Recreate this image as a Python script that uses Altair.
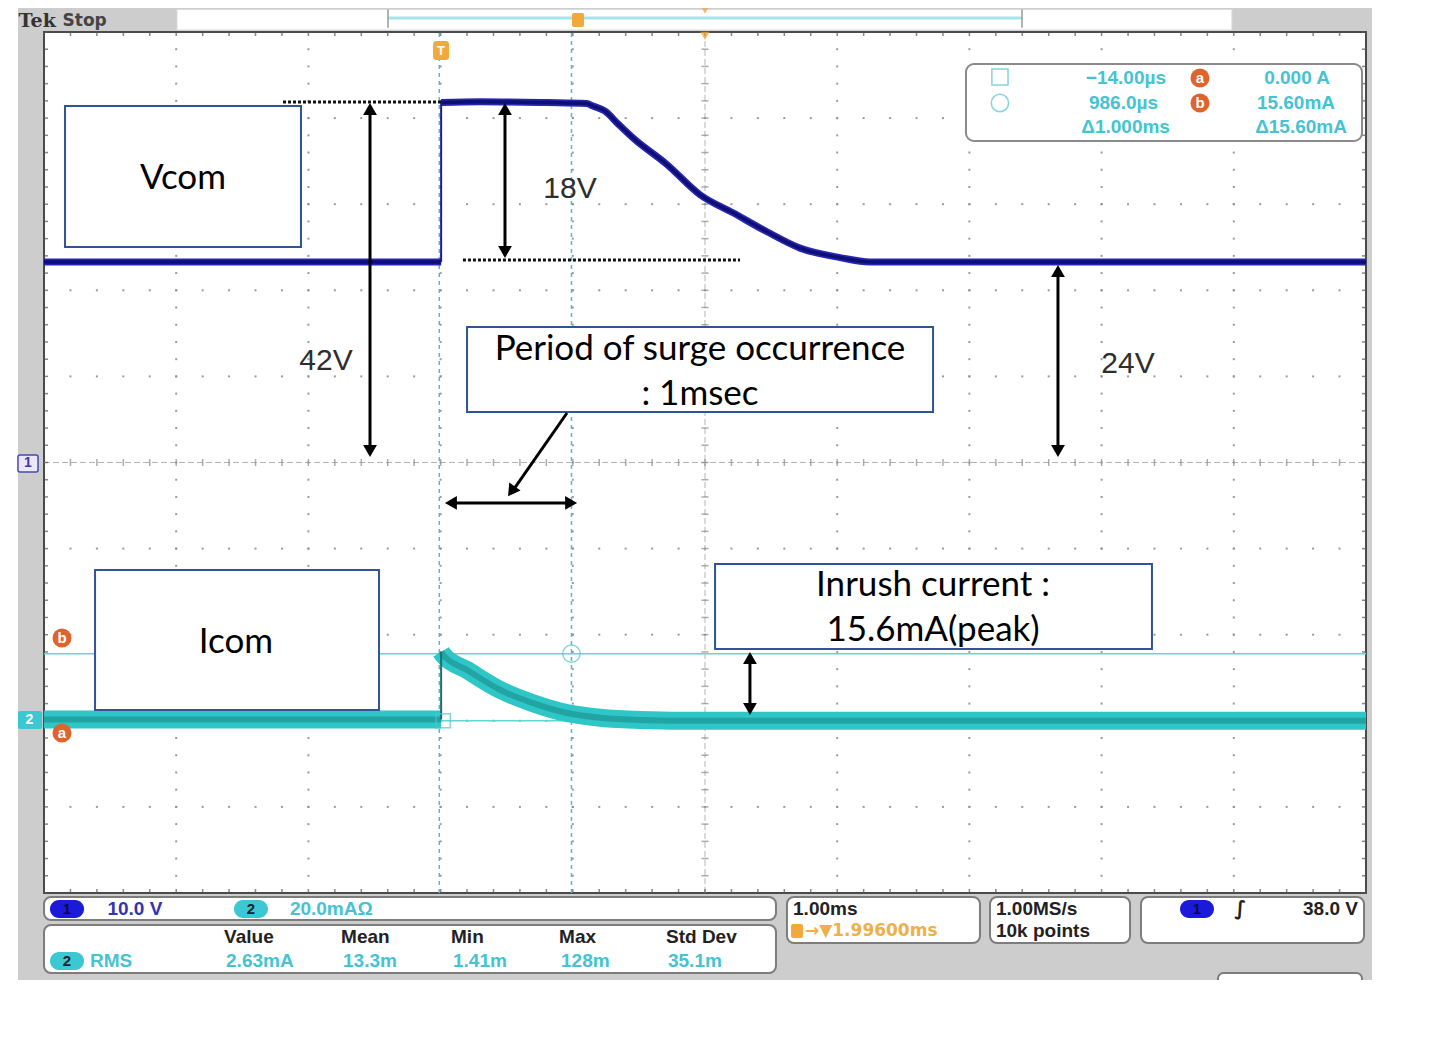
import altair as alt
import numpy as np
import pandas as pd

# ---------------- values ----------------
TRIG_DIV = 3.004                 # trigger point in divisions from left edge (1.00 ms/div)
CH1_GND_DIV, CH1_V_PER_DIV = 5.0, 10.0
CH2_GND_DIV, CH2_MA_PER_DIV = 2.0, 20.0

# Vcom (channel 1), time in ms relative to trigger, value in V
vcom_pre_t = [-3.004, 0.0]
vcom_pre_v = [23.3, 23.3]
vcom_t = [0.0, 0.3, 0.8, 1.1, 1.149, 1.24, 1.34, 1.451, 1.709, 1.958, 2.208, 2.465, 2.715, 3.017, 3.244, 3.6, 4.5, 5.5, 6.996]
vcom_v = [41.8, 41.9, 41.8, 41.7, 41.4, 40.8, 39.3, 37.7, 34.6, 31.1, 29.0, 26.8, 24.9, 23.8, 23.3, 23.3, 23.3, 23.3, 23.3]

# Icom (channel 2), time in ms, value in mA
icom_pre_t = [-3.004, 0.0]
icom_pre_ma = [0.3, 0.3]
icom_t = [0.0, 0.015, 0.196, 0.445, 0.695, 0.952, 1.202, 1.504, 2.0, 6.996]
icom_ma = [16.0, 15.3, 11.8, 7.2, 4.1, 1.8, 0.7, 0.2, 0.0, 0.0]

# cursors
cursor_t = [-0.014, 0.986]       # ms
cursor_ma = [0.0, 15.6]          # mA

cursor_time_text = ["\u221214.00\u00b5s", "986.0\u00b5s", "\u03941.000ms"]
cursor_amp_text = ["0.000 A", "15.60mA", "\u039415.60mA"]
meas_headers = ["Value", "Mean", "Min", "Max", "Std Dev"]
meas_values = ["2.63mA", "13.3m", "1.41m", "128m", "35.1m"]

annot_labels = ["42V", "18V", "24V"]

# ---------------- helpers ----------------
XS = alt.Scale(domain=[-0.1967, 10.0454], nice=False, zero=False)
YS = alt.Scale(domain=[-1.0105, 10.2787], nice=False, zero=False)
XE = alt.X("x:Q", scale=XS, axis=None)
YE = alt.Y("y:Q", scale=YS, axis=None)


def rect(rows, **kw):
    df = pd.DataFrame(rows, columns=["x", "x2", "y", "y2"])
    return alt.Chart(df).mark_rect(**kw).encode(x=XE, x2="x2:Q", y=YE, y2="y2:Q")


def rule(rows, **kw):
    df = pd.DataFrame(rows, columns=["x", "y", "x2", "y2"])
    return alt.Chart(df).mark_rule(**kw).encode(x=XE, y=YE, x2="x2:Q", y2="y2:Q")


def text(rows, **kw):
    df = pd.DataFrame(rows, columns=["x", "y", "text"])
    return alt.Chart(df).mark_text(**kw).encode(x=XE, y=YE, text="text:N")


def pts(rows, **kw):
    df = pd.DataFrame(rows, columns=["x", "y"])
    return alt.Chart(df).mark_point(**kw).encode(x=XE, y=YE)


def line(xs, ys, **kw):
    df = pd.DataFrame({"x": xs, "y": ys, "i": list(range(len(xs)))})
    return alt.Chart(df).mark_line(**kw).encode(x=XE, y=YE, order="i:Q")


def tdiv(ts):
    return [t + TRIG_DIV for t in ts]


def vdiv(vs):
    return [CH1_GND_DIV + v / CH1_V_PER_DIV for v in vs]


def idiv(ms):
    return [CH2_GND_DIV + m / CH2_MA_PER_DIV for m in ms]


SCOPE_FONT = "Liberation Sans"
CYAN_TXT = "#45c3d2"
layers = []

# ---------------- scope frame ----------------
layers.append(rect([(-0.1967, 10.0454, -1.0105, 10.2787)], color="#cdcdcd"))
layers.append(rect([(1.006, 8.986, 10.023, 10.262)], fill="white", stroke="#dadada", strokeWidth=1))
layers.append(rule([(2.602, 10.163, 7.398, 10.163)], color="#a6e3ea", strokeWidth=3))
layers.append(rule([(2.602, 10.26, 2.602, 10.05), (7.398, 10.26, 7.398, 10.05)], color="#9a9a9a", strokeWidth=1.5))
layers.append(text([(-0.192, 10.13, "Tek")], align="left", baseline="middle", font="DejaVu Serif",
                   fontSize=19, fontWeight="bold", color="#333333"))
layers.append(text([(0.14, 10.13, "Stop")], align="left", baseline="middle", font="DejaVu Sans",
                   fontSize=17, fontWeight="bold", color="#444444"))
# header markers
layers.append(rect([(3.994, 4.085, 10.221, 10.058)], color="#f2a93b", cornerRadius=2))
layers.append(pts([(5.0, 10.245)], shape="triangle-down", size=40, filled=True, color="#f0a030"))

# graticule
layers.append(rect([(0, 10, 0, 10)], fill="white", stroke="#4a4a4a", strokeWidth=2))

minor = np.round(np.arange(0, 10.0001, 0.2), 3)
dots = []
for k in range(1, 10):
    if k == 5:
        continue
    for m in minor[1:-1]:
        dots.append((k, m))
        dots.append((m, k))
layers.append(pts(dots, shape="square", size=4, filled=True, color="#8f8f8f", opacity=0.9))

# center axes
layers.append(rule([(5, 0, 5, 10), (0, 5, 10, 5)], color="#b4b4b4", strokeWidth=1, strokeDash=[6, 3]))
layers.append(pts([(m, 5) for m in minor[1:-1]], shape="M0,-1L0,1", size=49, filled=False,
                  color="#8a8a8a", strokeWidth=1.5))
layers.append(pts([(5, m) for m in minor[1:-1]], shape="M-1,0L1,0", size=49, filled=False,
                  color="#8a8a8a", strokeWidth=1.5))
# border ticks
layers.append(pts([(m, 10) for m in minor], shape="M0,0L0,1", size=64, filled=False, color="#555555", strokeWidth=1.5))
layers.append(pts([(m, 0) for m in minor], shape="M0,0L0,-1", size=64, filled=False, color="#555555", strokeWidth=1.5))
layers.append(pts([(0, m) for m in minor], shape="M0,0L1,0", size=64, filled=False, color="#555555", strokeWidth=1.5))
layers.append(pts([(10, m) for m in minor], shape="M0,0L-1,0", size=64, filled=False, color="#555555", strokeWidth=1.5))
layers.append(pts([(5.0, 9.955)], shape="triangle-down", size=90, filled=True, color="#f0a030"))

# cursors
cx = tdiv(cursor_t)
cy = idiv(cursor_ma)
layers.append(rule([(cx[0], 0, cx[0], 10), (cx[1], 0, cx[1], 10)], color="#52bccb", strokeWidth=1.5, strokeDash=[4, 4]))
layers.append(rule([(0, cy[0], 10, cy[0]), (0, cy[1], 10, cy[1])], color="#66d2da", strokeWidth=1.5))

# traces
layers.append(line(tdiv(vcom_pre_t), vdiv(vcom_pre_v), color="#2626b0", strokeWidth=7, interpolate="monotone"))
layers.append(line(tdiv(vcom_t), vdiv(vcom_v), color="#2626b0", strokeWidth=7, interpolate="monotone"))
layers.append(line(tdiv(vcom_pre_t), vdiv(vcom_pre_v), color="#0e0e74", strokeWidth=3.5, interpolate="monotone"))
layers.append(line(tdiv(vcom_t), vdiv(vcom_v), color="#0e0e74", strokeWidth=3.5, interpolate="monotone"))
layers.append(line(tdiv([0, 0]), vdiv([vcom_pre_v[-1], vcom_v[0]]), color="#1a1a9a", strokeWidth=2))

layers.append(line(tdiv(icom_pre_t), idiv(icom_pre_ma), color="#2ec6c6", strokeWidth=18, interpolate="monotone"))
layers.append(line(tdiv(icom_t), idiv(icom_ma), color="#2ec6c6", strokeWidth=18, interpolate="monotone"))
layers.append(line(tdiv(icom_pre_t), idiv(icom_pre_ma), color="#177a7a", strokeWidth=6, opacity=0.45, interpolate="monotone"))
layers.append(line(tdiv(icom_t), idiv(icom_ma), color="#177a7a", strokeWidth=6, opacity=0.45, interpolate="monotone"))
layers.append(line(tdiv([0, 0]), idiv([icom_pre_ma[-1], icom_ma[0]]), color="#1b6f6f", strokeWidth=2))

# cursor markers on graticule
layers.append(pts([(cx[0] + 0.03, cy[0])], shape="square", size=200, filled=False, color="#52c4d0", strokeWidth=1.5))
layers.append(pts([(cx[1], cy[1])], shape="circle", size=300, filled=False, color="#52c4d0", strokeWidth=1.5))

# trigger marker
layers.append(rect([(2.943, 3.064, 9.895, 9.675)], color="#f2a93b", cornerRadius=3))
layers.append(text([(3.003, 9.785, "T")], align="center", baseline="middle", font=SCOPE_FONT, fontSize=13,
                   fontWeight="bold", color="white"))

# channel ground tabs and cursor a/b markers
layers.append(rect([(-0.197, -0.045, 5.087, 4.890)], fill="#ece6fb", stroke="#4848b0", strokeWidth=1.5, cornerRadius=2))
layers.append(text([(-0.122, 4.99, "1")], align="center", baseline="middle", font=SCOPE_FONT, fontSize=14,
                   fontWeight="bold", color="#3a3aa8"))
layers.append(rect([(-0.197, -0.015, 2.114, 1.905)], color="#3cc8d2", cornerRadius=2))
layers.append(text([(-0.11, 2.01, "2")], align="center", baseline="middle", font=SCOPE_FONT, fontSize=14,
                   fontWeight="bold", color="white"))
layers.append(pts([(0.136, 2.962), (0.136, 1.858)], shape="circle", size=360, filled=True, color="#e0622c", opacity=1))
layers.append(text([(0.136, 2.962, "b"), (0.136, 1.858, "a")], align="center", baseline="middle",
                   font=SCOPE_FONT, fontSize=15, fontWeight="bold", color="white"))

# cursor readout box
layers.append(rect([(6.974, 9.970, 9.628, 8.734)], fill="white", stroke="#8a8a8a", strokeWidth=2, cornerRadius=8))
layers.append(pts([(7.231, 9.477)], shape="square", size=260, filled=False, color="#52c4d0", strokeWidth=1.5))
layers.append(pts([(7.231, 9.175)], shape="circle", size=300, filled=False, color="#52c4d0", strokeWidth=1.5))
layers.append(text([(8.487, 9.466, cursor_time_text[0]), (8.427, 9.175, cursor_time_text[1]),
                    (8.517, 8.897, cursor_time_text[2])], align="right", baseline="middle",
                   font=SCOPE_FONT, fontSize=19, fontWeight="bold", color=CYAN_TXT))
layers.append(text([(9.728, 9.466, cursor_amp_text[0]), (9.766, 9.175, cursor_amp_text[1]),
                    (9.856, 8.897, cursor_amp_text[2])], align="right", baseline="middle",
                   font=SCOPE_FONT, fontSize=19, fontWeight="bold", color=CYAN_TXT))
layers.append(pts([(8.744, 9.466), (8.744, 9.175)], shape="circle", size=360, filled=True, color="#e0622c", opacity=1))
layers.append(text([(8.744, 9.466, "a"), (8.744, 9.175, "b")], align="center", baseline="middle",
                   font=SCOPE_FONT, fontSize=15, fontWeight="bold", color="white"))

# bottom readout boxes
box_kw = dict(fill="white", stroke="#7d7d7d", strokeWidth=2, cornerRadius=7)
layers.append(rect([(0.0, 5.537, -0.046, -0.314)], **box_kw))
layers.append(rect([(0.0, 5.537, -0.372, -0.929)], **box_kw))
layers.append(rect([(5.620, 7.080, -0.046, -0.581)], **box_kw))
layers.append(rect([(7.156, 8.215, -0.046, -0.581)], **box_kw))
layers.append(rect([(8.298, 9.985, -0.046, -0.581)], **box_kw))
layers.append(rect([(8.880, 9.970, -0.929, -1.06)], **box_kw))

layers.append(rect([(0.045, 0.303, -0.081, -0.290), (8.593, 8.850, -0.081, -0.290)], color="#1a1ad8", cornerRadius=9))
layers.append(rect([(1.437, 1.694, -0.081, -0.290), (0.045, 0.303, -0.685, -0.894)], color="#3cc8d2", cornerRadius=9))
layers.append(text([(0.174, -0.186, "1"), (8.721, -0.186, "1")], align="center", baseline="middle",
                   font=SCOPE_FONT, fontSize=15, fontWeight="bold", color="#0a0a50"))
layers.append(text([(1.565, -0.186, "2"), (0.174, -0.79, "2")], align="center", baseline="middle",
                   font=SCOPE_FONT, fontSize=15, fontWeight="bold", color="#123"))
layers.append(text([(0.48, -0.186, "10.0 V")], align="left", baseline="middle", font=SCOPE_FONT,
                   fontSize=19, fontWeight="bold", color="#3434b2"))
layers.append(text([(1.86, -0.186, "20.0mA\u03a9"), (0.348, -0.79, "RMS")], align="left", baseline="middle",
                   font=SCOPE_FONT, fontSize=19, fontWeight="bold", color=CYAN_TXT))
col_x = [1.362, 2.247, 3.079, 3.896, 4.705]
layers.append(text([(col_x[i], -0.511, meas_headers[i]) for i in range(5)], align="left", baseline="middle",
                   font=SCOPE_FONT, fontSize=19, fontWeight="bold", color="#222222"))
layers.append(text([(col_x[i] + 0.015, -0.79, meas_values[i]) for i in range(5)], align="left", baseline="middle",
                   font=SCOPE_FONT, fontSize=19, fontWeight="bold", color=CYAN_TXT))
layers.append(text([(5.666, -0.186, "1.00ms"), (7.201, -0.186, "1.00MS/s"), (7.201, -0.441, "10k points")],
                   align="left", baseline="middle", font=SCOPE_FONT, fontSize=19, fontWeight="bold", color="#222222"))
layers.append(rect([(5.651, 5.741, -0.36, -0.523)], color="#f2a93b", cornerRadius=2))
layers.append(text([(5.756, -0.441, "\u2192\u25bc1.99600ms")], align="left", baseline="middle",
                   font="DejaVu Sans", fontSize=17, fontWeight="bold", color="#f0b048"))
layers.append(text([(9.05, -0.186, "\u222b")], align="center", baseline="middle", font="DejaVu Sans",
                   fontSize=20, fontStyle="italic", fontWeight="bold", color="#222222"))
layers.append(text([(9.939, -0.186, "38.0 V")], align="right", baseline="middle", font=SCOPE_FONT,
                   fontSize=19, fontWeight="bold", color="#222222"))

# ---------------- annotations ----------------
ann_box = dict(fill="white", stroke="#2f5597", strokeWidth=2)
layers.append(rect([(0.159, 1.944, 9.141, 7.503), (0.386, 2.534, 3.751, 2.125),
                    (3.200, 6.725, 6.574, 5.587), (5.076, 8.381, 3.821, 2.834)], **ann_box))
ANN_FONT = "Lato"
layers.append(text([(1.051, 8.304, "Vcom"), (1.452, 2.915, "Icom"),
                    (4.962, 6.318, "Period of surge occurrence"), (4.962, 5.796, ": 1msec"),
                    (6.725, 3.577, "Inrush current :"), (6.725, 3.055, "15.6mA(peak)")],
                   align="center", baseline="middle", font=ANN_FONT, fontSize=35, color="#000000"))
layers.append(text([(2.133, 6.179, annot_labels[0]), (3.979, 8.177, annot_labels[1]), (8.200, 6.144, annot_labels[2])],
                   align="center", baseline="middle", font="Liberation Sans", fontSize=30, color="#2e2e2e"))

# dotted reference lines
layers.append(rule([(1.808, 9.187, 3.003, 9.187), (3.169, 7.352, 5.265, 7.352)], color="#111111",
                   strokeWidth=3, strokeDash=[3, 2]))

# arrows
layers.append(rule([(2.466, 9.11, 2.466, 5.13), (3.487, 9.11, 3.487, 7.44), (7.670, 7.22, 7.670, 5.13),
                    (5.340, 2.73, 5.340, 2.14), (3.08, 4.530, 3.99, 4.530), (3.956, 5.575, 3.54, 4.66)],
                   color="#000000", strokeWidth=3))
head_kw = dict(filled=True, color="#000000", size=190, opacity=1)
layers.append(pts([(2.466, 9.105), (3.487, 9.105), (7.670, 7.224), (5.340, 2.729)], shape="triangle-up", **head_kw))
layers.append(pts([(2.466, 5.134), (3.487, 7.445), (7.670, 5.134), (5.340, 2.137)], shape="triangle-down", **head_kw))
layers.append(pts([(3.078, 4.530)], shape="triangle-left", **head_kw))
layers.append(pts([(3.987, 4.530)], shape="triangle-right", **head_kw))
layers.append(pts([(3.536, 4.665)], shape="triangle-up", angle=215, **head_kw))

chart = alt.layer(*layers).properties(
    width=1354, height=972,
    padding={"left": 10, "top": 0, "right": 0, "bottom": 0},
    autosize=alt.AutoSizeParams(type="none"),
    background="white",
).configure_view(stroke=None)

chart.save("out.html", embed_options={"renderer": "svg", "actions": False})
